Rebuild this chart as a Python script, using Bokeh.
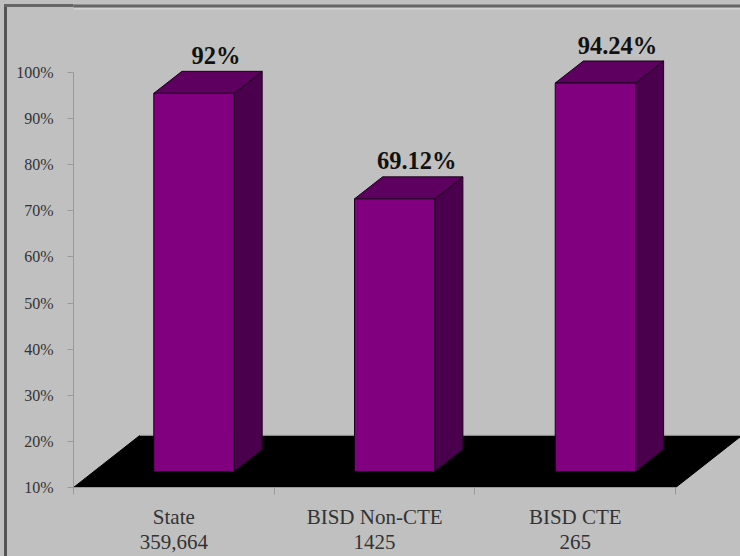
from bokeh.plotting import figure
from bokeh.models import ColumnDataSource, FixedTicker, PolyAnnotation
from bokeh.core.properties import value
from bokeh.embed import file_html
from bokeh.resources import INLINE

categories = ["State", "BISD Non-CTE", "BISD CTE"]
counts = ["359,664", "1425", "265"]
percents = [92, 69.12, 94.24]
value_labels = ["92%", "69.12%", "94.24%"]
value_ticks = [10, 20, 30, 40, 50, 60, 70, 80, 90, 100]

FONT = "Liberation Serif"
BG = "#c0c0c0"

p = figure(width=740, height=556, output_backend="svg", toolbar_location=None,
           x_range=(0, 3.323), y_range=(10, 115.6),
           min_border_left=73, min_border_right=0, min_border_top=0, min_border_bottom=69,
           background_fill_color=BG, border_fill_color=None, outline_line_color=None)
p.styles = {
    "background-color": BG,
    "background-image": "linear-gradient(#666666,#666666), linear-gradient(#555555,#555555)",
    "background-size": "100% 3px, 3px 100%",
    "background-position": "4px 4px, 4px 4px",
    "background-repeat": "no-repeat",
}
p.grid.visible = False

# floor of the 3-D box
floor_dx, floor_dy = 0.33, 11.28
p.patch([0, 3, 3 + floor_dx, floor_dx], [10, 10, 10 + floor_dy, 10 + floor_dy],
        fill_color="#000000", line_color="#000000")
p.line([floor_dx, 3 + floor_dx], [10 + floor_dy] * 2, line_color="#8c8c8c", line_width=1)

# 3-D bars
front_shift = 3.47
dx, dy = 0.14, 4.77
lefts = [i + 0.4 for i in range(3)]
rights = [i + 0.8 for i in range(3)]
bottoms = [10 + front_shift] * 3
tops = [v + front_shift for v in percents]

p.patches([[r, r + dx, r + dx, r] for r, b, t in zip(rights, bottoms, tops)],
          [[b, b + dy, t + dy, t] for r, b, t in zip(rights, bottoms, tops)],
          fill_color="#4a004c", line_color="#1c001c", line_width=1)
p.patches([[l, r, r + dx, l + dx] for l, r, t in zip(lefts, rights, tops)],
          [[t, t, t + dy, t + dy] for l, r, t in zip(lefts, rights, tops)],
          fill_color="#5e0060", line_color="#1c001c", line_width=1)
p.quad(left=lefts, right=rights, bottom=bottoms, top=tops,
       fill_color="#800080", line_color="#1c001c", line_width=1)

# value labels above the bars
src = ColumnDataSource(dict(x=[i + 0.71 for i in range(3)], y=tops, t=value_labels))
p.text("x", "y", text="t", source=src, y_offset=-38, text_align="center", text_baseline="middle",
       text_font=value(FONT), text_font_style="bold", text_font_size="24.5px", text_color="#111111")

# axes
ya = p.yaxis[0]
ya.ticker = FixedTicker(ticks=value_ticks)
ya.bounds = (10, 100)
ya.major_label_overrides = {t: f"{t}%" for t in value_ticks}
ya.major_label_text_font = FONT
ya.major_label_text_font_size = "16px"
ya.major_label_text_color = "#333333"
ya.major_label_standoff = 14
ya.axis_line_color = "#999999"
ya.major_tick_line_color = "#999999"
ya.major_tick_out = 6
ya.major_tick_in = 0
ya.minor_tick_line_color = None

xa = p.xaxis[0]
xa.ticker = FixedTicker(ticks=[0.5, 1.5, 2.5], minor_ticks=[0, 1, 2, 3])
xa.bounds = (0, 3)
xa.major_label_overrides = {i + 0.5: f"{c}\n{n}" for i, (c, n) in enumerate(zip(categories, counts))}
xa.major_label_text_font = FONT
xa.major_label_text_font_size = "21px"
xa.major_label_text_line_height = 1.05
xa.major_label_text_color = "#333333"
xa.major_label_standoff = 10
xa.axis_line_color = "#999999"
xa.major_tick_line_color = None
xa.minor_tick_line_color = "#999999"
xa.minor_tick_out = 7
xa.minor_tick_in = 0


def edge(left, right, top, bottom, color):
    p.add_layout(PolyAnnotation(xs=[left, right, right, left], ys=[top, top, bottom, bottom],
                                xs_units="canvas", ys_units="canvas",
                                fill_color=color, fill_alpha=1, line_color=None))


# picture frame along the top edge, across the plot area
edge(8, 740, 7, 9, "#d4d4d4")
edge(4, 740, 4, 7, "#666666")

open("out.html", "w").write(file_html(p, INLINE))
